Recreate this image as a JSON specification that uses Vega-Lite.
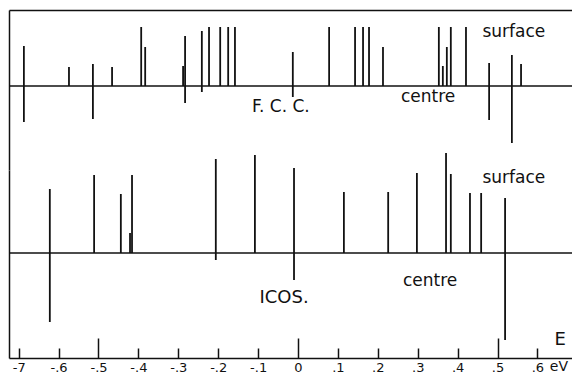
{
  "$schema": "https://vega.github.io/schema/vega-lite/v6.json",
  "background": "white",
  "padding": {"left": 8, "top": 10, "right": 0, "bottom": 0},
  "bounds": "flush",
  "spacing": 0,
  "config": {
    "view": {"stroke": null},
    "axis": {"domainColor": "#111", "domainWidth": 1.5, "tickColor": "#111", "labelColor": "#111", "labelFont": "DejaVu Sans", "titleFont": "DejaVu Sans"},
    "text": {"font": "DejaVu Sans", "color": "#111", "align": "center", "baseline": "middle"}
  },
  "datasets": {
    "sticks": [
      {"system": "F.C.C.", "site": "surface", "E": -0.687, "w": 40},
      {"system": "F.C.C.", "site": "surface", "E": -0.574, "w": 19},
      {"system": "F.C.C.", "site": "surface", "E": -0.514, "w": 22},
      {"system": "F.C.C.", "site": "surface", "E": -0.466, "w": 19},
      {"system": "F.C.C.", "site": "surface", "E": -0.393, "w": 59},
      {"system": "F.C.C.", "site": "surface", "E": -0.383, "w": 39},
      {"system": "F.C.C.", "site": "surface", "E": -0.288, "w": 20},
      {"system": "F.C.C.", "site": "surface", "E": -0.283, "w": 50},
      {"system": "F.C.C.", "site": "surface", "E": -0.241, "w": 55},
      {"system": "F.C.C.", "site": "surface", "E": -0.223, "w": 59},
      {"system": "F.C.C.", "site": "surface", "E": -0.195, "w": 59},
      {"system": "F.C.C.", "site": "surface", "E": -0.175, "w": 59},
      {"system": "F.C.C.", "site": "surface", "E": -0.158, "w": 59},
      {"system": "F.C.C.", "site": "surface", "E": -0.013, "w": 34},
      {"system": "F.C.C.", "site": "surface", "E": 0.078, "w": 59},
      {"system": "F.C.C.", "site": "surface", "E": 0.143, "w": 59},
      {"system": "F.C.C.", "site": "surface", "E": 0.163, "w": 59},
      {"system": "F.C.C.", "site": "surface", "E": 0.178, "w": 59},
      {"system": "F.C.C.", "site": "surface", "E": 0.213, "w": 39},
      {"system": "F.C.C.", "site": "surface", "E": 0.353, "w": 59},
      {"system": "F.C.C.", "site": "surface", "E": 0.363, "w": 20},
      {"system": "F.C.C.", "site": "surface", "E": 0.373, "w": 39},
      {"system": "F.C.C.", "site": "surface", "E": 0.383, "w": 59},
      {"system": "F.C.C.", "site": "surface", "E": 0.421, "w": 59},
      {"system": "F.C.C.", "site": "surface", "E": 0.479, "w": 23},
      {"system": "F.C.C.", "site": "surface", "E": 0.536, "w": 31},
      {"system": "F.C.C.", "site": "surface", "E": 0.559, "w": 22},
      {"system": "F.C.C.", "site": "centre", "E": -0.687, "w": -36},
      {"system": "F.C.C.", "site": "centre", "E": -0.514, "w": -33},
      {"system": "F.C.C.", "site": "centre", "E": -0.283, "w": -17},
      {"system": "F.C.C.", "site": "centre", "E": -0.241, "w": -6},
      {"system": "F.C.C.", "site": "centre", "E": -0.013, "w": -11},
      {"system": "F.C.C.", "site": "centre", "E": 0.479, "w": -34},
      {"system": "F.C.C.", "site": "centre", "E": 0.536, "w": -57},
      {"system": "ICOS.", "site": "surface", "E": -0.622, "w": 64},
      {"system": "ICOS.", "site": "surface", "E": -0.511, "w": 78},
      {"system": "ICOS.", "site": "surface", "E": -0.444, "w": 59},
      {"system": "ICOS.", "site": "surface", "E": -0.421, "w": 20},
      {"system": "ICOS.", "site": "surface", "E": -0.416, "w": 78},
      {"system": "ICOS.", "site": "surface", "E": -0.206, "w": 94},
      {"system": "ICOS.", "site": "surface", "E": -0.108, "w": 98},
      {"system": "ICOS.", "site": "surface", "E": -0.010, "w": 85},
      {"system": "ICOS.", "site": "surface", "E": 0.115, "w": 61},
      {"system": "ICOS.", "site": "surface", "E": 0.226, "w": 61},
      {"system": "ICOS.", "site": "surface", "E": 0.298, "w": 80},
      {"system": "ICOS.", "site": "surface", "E": 0.371, "w": 100},
      {"system": "ICOS.", "site": "surface", "E": 0.383, "w": 79},
      {"system": "ICOS.", "site": "surface", "E": 0.431, "w": 60},
      {"system": "ICOS.", "site": "surface", "E": 0.459, "w": 60},
      {"system": "ICOS.", "site": "surface", "E": 0.519, "w": 55},
      {"system": "ICOS.", "site": "centre", "E": -0.622, "w": -69},
      {"system": "ICOS.", "site": "centre", "E": -0.206, "w": -7},
      {"system": "ICOS.", "site": "centre", "E": -0.010, "w": -27},
      {"system": "ICOS.", "site": "centre", "E": 0.519, "w": -87}
    ]
  },
  "vconcat": [
    {
      "width": 563,
      "height": 160,
      "layer": [
        {
          "data": {"name": "sticks"},
          "transform": [{"filter": "datum.system == 'F.C.C.'"}],
          "mark": {"type": "rule", "color": "#111", "strokeWidth": 1.8},
          "encoding": {
            "x": {"field": "E", "type": "quantitative", "scale": {"domain": [-0.7243, 0.6867], "nice": false, "zero": false},
                  "axis": {"orient": "top", "labels": false, "ticks": false, "grid": false, "title": null, "domain": true}},
            "y": {"field": "w", "type": "quantitative", "scale": {"domain": [-84, 76], "nice": false},
                  "axis": {"labels": false, "ticks": false, "grid": false, "title": null, "domain": true}},
            "y2": {"datum": 0}
          }
        },
        {
          "data": {"values": [{}]},
          "mark": {"type": "rule", "color": "#111", "strokeWidth": 1.5},
          "encoding": {"y": {"datum": 0}}
        },
        {"data": {"values": [{}]}, "mark": {"type": "text", "text": "surface", "fontSize": 17},
         "encoding": {"x": {"datum": 0.541}, "y": {"datum": 54}}},
        {"data": {"values": [{}]}, "mark": {"type": "text", "text": "centre", "fontSize": 17},
         "encoding": {"x": {"datum": 0.326}, "y": {"datum": -11}}},
        {"data": {"values": [{}]}, "mark": {"type": "text", "text": "F. C. C.", "fontSize": 17},
         "encoding": {"x": {"datum": -0.043}, "y": {"datum": -21}}}
      ]
    },
    {
      "width": 563,
      "height": 188,
      "layer": [
        {
          "data": {"name": "sticks"},
          "transform": [{"filter": "datum.system == 'ICOS.'"}],
          "mark": {"type": "rule", "color": "#111", "strokeWidth": 1.8},
          "encoding": {
            "x": {"field": "E", "type": "quantitative", "scale": {"domain": [-0.7243, 0.6867], "nice": false, "zero": false},
                  "axis": {"orient": "bottom", "grid": false, "title": null, "domain": true,
                           "values": [-0.7, -0.6, -0.5, -0.4, -0.3, -0.2, -0.1, 0, 0.1, 0.2, 0.3, 0.4, 0.5, 0.6],
                           "tickSize": {"condition": {"test": "datum.value == 0 || abs(datum.value) == 0.5", "value": -20}, "value": -10},
                           "labelPadding": {"condition": {"test": "datum.value == 0 || abs(datum.value) == 0.5", "value": 23}, "value": 13},
                           "tickWidth": 1.5,
                           "labelFontSize": 13, "labelFlush": false, "labelOverlap": false,
                           "labelExpr": "datum.value == -0.7 ? '-7' : (datum.value == 0 ? '0' : (datum.value < 0 ? '-.' : '.') + round(abs(datum.value) * 10))"}},
            "y": {"field": "w", "type": "quantitative", "scale": {"domain": [-105, 83], "nice": false},
                  "axis": {"labels": false, "ticks": false, "grid": false, "title": null, "domain": true}},
            "y2": {"datum": 0}
          }
        },
        {
          "data": {"values": [{}]},
          "mark": {"type": "rule", "color": "#111", "strokeWidth": 1.5},
          "encoding": {"y": {"datum": 0}}
        },
        {"data": {"values": [{}]}, "mark": {"type": "text", "text": "surface", "fontSize": 17},
         "encoding": {"x": {"datum": 0.541}, "y": {"datum": 75}}},
        {"data": {"values": [{}]}, "mark": {"type": "text", "text": "centre", "fontSize": 17},
         "encoding": {"x": {"datum": 0.331}, "y": {"datum": -28}}},
        {"data": {"values": [{}]}, "mark": {"type": "text", "text": "ICOS.", "fontSize": 18},
         "encoding": {"x": {"datum": -0.035}, "y": {"datum": -45}}},
        {"data": {"values": [{}]}, "mark": {"type": "text", "text": "E", "fontSize": 18},
         "encoding": {"x": {"datum": 0.657}, "y": {"datum": -87}}},
        {"data": {"values": [{}]}, "mark": {"type": "text", "text": "eV", "fontSize": 14},
         "encoding": {"x": {"datum": 0.654}, "y": {"datum": -114}}}
      ]
    }
  ]
}
